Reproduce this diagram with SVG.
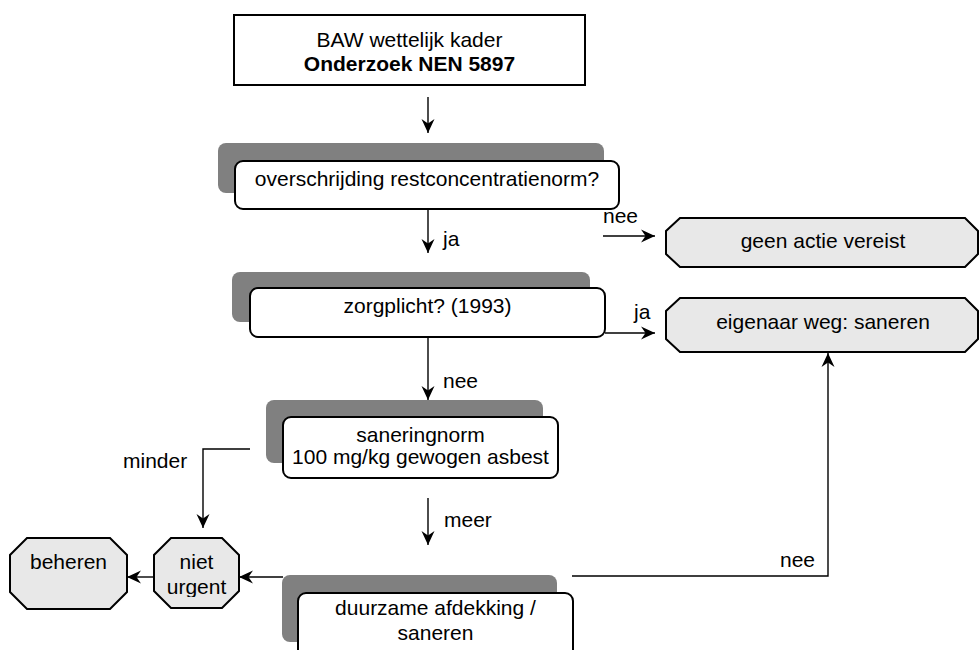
<svg xmlns="http://www.w3.org/2000/svg" width="980" height="650" viewBox="0 0 980 650">
<style>
text{font-family:"Liberation Sans",Arial,sans-serif;font-size:21px;fill:#000}
.c{text-anchor:middle}
.b{font-weight:bold}
.box{fill:#fff;stroke:#000;stroke-width:2}
.sh{fill:#808080}
.oct{fill:#e8e8e8;stroke:#000;stroke-width:2}
.con{fill:none;stroke:#000;stroke-width:1.4}
</style>
<defs>
<marker id="ah" markerUnits="userSpaceOnUse" viewBox="-15 -7 16 14" markerWidth="16" markerHeight="14" refX="0" refY="0" orient="auto">
<path d="M0,0 L-14,-6.5 L-9.5,0 L-14,6.5 Z" fill="#000"/>
</marker>
<clipPath id="nuclip"><rect x="150" y="536" width="95" height="61"/></clipPath>
</defs>
<rect width="980" height="650" fill="#fff"/>

<g id="connectors">
<path class="con" d="M428,97 V133" marker-end="url(#ah)"/>
<path class="con" d="M428,209 V253" marker-end="url(#ah)"/>
<path class="con" d="M603,236 H655" marker-end="url(#ah)"/>
<path class="con" d="M605,333 H655" marker-end="url(#ah)"/>
<path class="con" d="M428,337 V400" marker-end="url(#ah)"/>
<path class="con" d="M250,449 H203 V528" marker-end="url(#ah)"/>
<path class="con" d="M428,498 V545" marker-end="url(#ah)"/>
<path class="con" d="M283,577 H239" marker-end="url(#ah)"/>
<path class="con" d="M154,577 H127" marker-end="url(#ah)"/>
<path class="con" d="M572,576 H828 V353" marker-end="url(#ah)"/>
<text x="443" y="246">ja</text>
<text x="603" y="223">nee</text>
<text x="634" y="319">ja</text>
<text x="443" y="388">nee</text>
<text x="123" y="468">minder</text>
<text x="444" y="527">meer</text>
<text x="780" y="567">nee</text>
</g>

<g id="node-baw">
<rect class="box" x="234" y="15" width="351" height="70"/>
<text class="c" x="409.5" y="47">BAW wettelijk kader</text>
<text class="c b" x="409.5" y="71">Onderzoek NEN 5897</text>
</g>

<g id="node-overschrijding">
<rect class="sh" x="218" y="143" width="386" height="50" rx="8"/>
<rect class="box" x="235" y="161" width="384" height="48" rx="8"/>
<text class="c" x="427" y="186">overschrijding restconcentratienorm?</text>
</g>

<g id="node-geen-actie">
<polygon class="oct" points="680,218 965,218 978,231 978,254 965,267 680,267 666,254 666,231"/>
<text class="c" x="823" y="248">geen actie vereist</text>
</g>

<g id="node-zorgplicht">
<rect class="sh" x="232" y="272" width="358" height="50" rx="8"/>
<rect class="box" x="250" y="288" width="355" height="49" rx="8"/>
<text class="c" x="427.5" y="313">zorgplicht? (1993)</text>
</g>

<g id="node-eigenaar">
<polygon class="oct" points="680,298 965,298 978,311 978,339 965,352 680,352 666,339 666,311"/>
<text class="c" x="823" y="329">eigenaar weg: saneren</text>
</g>

<g id="node-saneringnorm">
<rect class="sh" x="266" y="400" width="277" height="63" rx="8"/>
<rect class="box" x="283" y="417" width="275" height="61" rx="8"/>
<text class="c" x="420.5" y="442">saneringnorm</text>
<text class="c" x="420.5" y="464">100 mg/kg gewogen asbest</text>
</g>

<g id="node-niet-urgent">
<polygon class="oct" points="171,538 222,538 239,555 239,591 222,608 171,608 154,591 154,555"/>
<g clip-path="url(#nuclip)">
<text class="c" x="196.5" y="569">niet</text>
<text class="c" x="196.5" y="594">urgent</text>
</g>
</g>

<g id="node-beheren">
<polygon class="oct" points="27,538 110,538 127,555 127,592 110,609 27,609 10,592 10,555"/>
<text class="c" x="68.5" y="569">beheren</text>
</g>

<g id="node-duurzame">
<rect class="sh" x="282" y="575" width="275" height="67" rx="8"/>
<rect class="box" x="298" y="593" width="275" height="70" rx="8"/>
<text class="c" x="435.5" y="615">duurzame afdekking /</text>
<text class="c" x="435.5" y="640">saneren</text>
</g>
</svg>
